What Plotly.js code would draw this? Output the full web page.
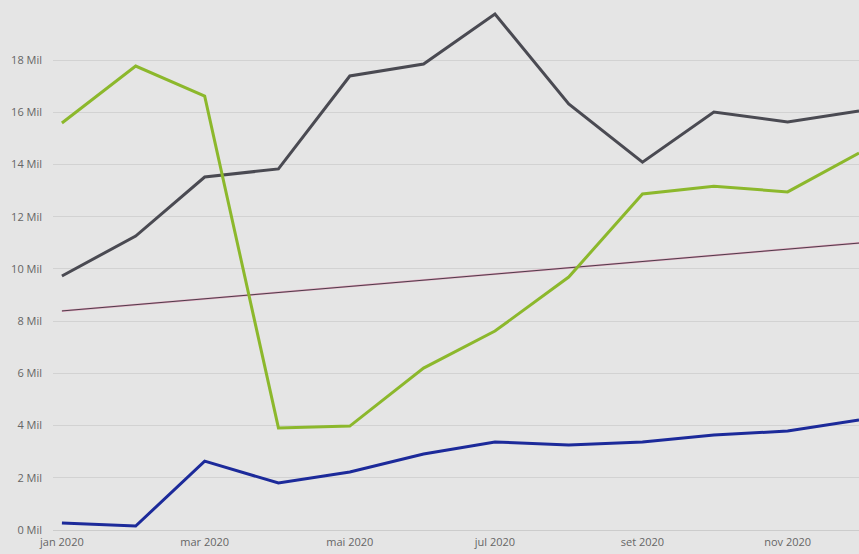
<!DOCTYPE html>
<html>
<head>
<meta charset="utf-8">
<script src="https://cdn.plot.ly/plotly-3.0.1.min.js"></script>
<style>html,body{margin:0;padding:0;background:#e5e5e5;}#chart{width:859px;height:554px;}</style>
</head>
<body>
<div id="chart"></div>
<script>
const months = ['2020-01-01','2020-02-01','2020-03-01','2020-04-01','2020-05-01','2020-06-01','2020-07-01','2020-08-01','2020-09-01','2020-10-01','2020-11-01','2020-12-01'];
const seriesGray  = [9.73, 11.26, 13.52, 13.83, 17.39, 17.85, 19.76, 16.32, 14.09, 16.01, 15.63, 16.05];
const seriesGreen = [15.59, 17.77, 16.62, 3.91, 3.98, 6.20, 7.62, 9.69, 12.87, 13.17, 12.95, 14.44];
const seriesBlue  = [0.27, 0.15, 2.64, 1.80, 2.22, 2.91, 3.37, 3.26, 3.37, 3.64, 3.79, 4.21];
const trendDates  = ['2020-01-01', '2020-12-01'];
const trendValues = [8.39, 10.99];
const yTickVals   = [0, 2, 4, 6, 8, 10, 12, 14, 16, 18];
const yTickText   = ['0 Mil','2 Mil','4 Mil','6 Mil','8 Mil','10 Mil','12 Mil','14 Mil','16 Mil','18 Mil'];
const xTickVals   = ['2020-01-01','2020-03-01','2020-05-01','2020-07-01','2020-09-01','2020-11-01'];
const xTickText   = ['jan 2020','mar 2020','mai 2020','jul 2020','set 2020','nov 2020'];

const traces = [
  {x: trendDates, y: trendValues, mode: 'lines', line: {color: '#e2a6be', width: 2}, hoverinfo: 'skip'},
  {x: trendDates, y: trendValues, mode: 'lines', line: {color: '#4e3c4a', width: 1}},
  {x: months, y: seriesGray, mode: 'lines', line: {color: '#4a4a52', width: 3}},
  {x: months, y: seriesGreen, mode: 'lines', line: {color: '#8cb82c', width: 3}},
  {x: months, y: seriesBlue, mode: 'lines', line: {color: '#1c2a9a', width: 3}}
];

const layout = {
  width: 859, height: 554,
  margin: {l: 53, r: 0, t: 0, b: 24},
  paper_bgcolor: '#e5e5e5', plot_bgcolor: '#e5e5e5',
  showlegend: false,
  font: {family: 'Open Sans, sans-serif', size: 11, color: '#666666'},
  xaxis: {
    type: 'date',
    range: ['2019-12-28 06:00', '2020-12-01'],
    tickvals: xTickVals, ticktext: xTickText,
    showgrid: false, zeroline: false,
    showline: true, linecolor: '#cccccc', linewidth: 1,
    ticks: '', ticklabelstandoff: 2,
    tickfont: {size: 11, color: '#666666'}
  },
  yaxis: {
    range: [0, 20.3],
    tickvals: yTickVals, ticktext: yTickText,
    showgrid: true, gridcolor: '#d2d2d2', gridwidth: 1,
    zeroline: false, ticks: '', ticklabelstandoff: 10,
    tickfont: {size: 11, color: '#666666'}
  }
};
Plotly.newPlot('chart', traces, layout, {displayModeBar: false, staticPlot: true});
</script>
</body>
</html>
